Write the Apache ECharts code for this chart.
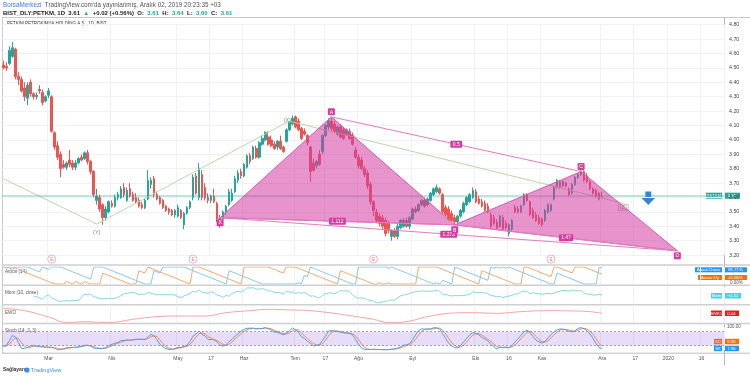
<!DOCTYPE html>
<html>
<head>
<meta charset="utf-8">
<script src="https://cdn.jsdelivr.net/npm/echarts@6.0.0/dist/echarts.min.js"></script>
<style>
html, body { margin: 0; padding: 0; background: #fff; }
#chart { width: 750px; height: 377px; }
</style>
</head>
<body>
<div id="chart"></div>
<script>
// daily slots, the last ~40 are empty future space like on the original
const SLOTS = 240;
const categories = Array.from({ length: SLOTS }, (_, i) => i);
const timeLabelIdx = [15, 36, 58, 69, 80, 97, 107, 118, 136, 157, 168, 179, 199, 210, 221, 232];
const timeLabels = ['Mar', 'Nis', 'May', '17', 'Haz', 'Tem', '17', 'Ağu', 'Eyl', 'Eki', '16', 'Kas', 'Ara', '17', '2020', '16'];

// PETKM daily candles
const opens = [
  4.52, 4.51, 4.53, 4.58, 4.63, 4.44, 4.42, 4.36, 4.29, 4.40,
  4.32, 4.30, 4.35, 4.33, 4.27, 4.31, 4.30, 4.05, 3.96, 3.90,
  3.83, 3.81, 3.86, 3.84, 3.81, 3.84, 3.88, 3.87, 3.91, 3.85,
  3.78, 3.58, 3.60, 3.55, 3.46, 3.50, 3.56, 3.54, 3.60, 3.60,
  3.67, 3.58, 3.66, 3.62, 3.60, 3.58, 3.55, 3.53, 3.59, 3.69,
  3.73, 3.62, 3.60, 3.58, 3.54, 3.52, 3.51, 3.48, 3.47, 3.51,
  3.41, 3.49, 3.53, 3.60, 3.75, 3.60, 3.76, 3.67, 3.60, 3.58,
  3.61, 3.56, 3.46, 3.45, 3.50, 3.55, 3.58, 3.64, 3.72, 3.78,
  3.75, 3.81, 3.89, 3.87, 3.94, 3.88, 3.97, 4.00, 4.02, 4.00,
  3.97, 3.95, 3.99, 3.95, 3.99, 4.07, 4.11, 4.16, 4.13, 4.08,
  4.06, 4.03, 3.95, 3.84, 3.82, 3.90, 3.92, 4.03, 4.09, 4.13,
  4.11, 4.04, 4.09, 4.07, 4.04, 4.06, 4.03, 3.93, 3.88, 3.86,
  3.80, 3.77, 3.69, 3.57, 3.50, 3.47, 3.46, 3.44, 3.42, 3.33,
  3.37, 3.33, 3.39, 3.40, 3.44, 3.40, 3.45, 3.52, 3.51, 3.55,
  3.58, 3.55, 3.58, 3.62, 3.64, 3.66, 3.62, 3.53, 3.52, 3.49,
  3.46, 3.43, 3.47, 3.50, 3.55, 3.57, 3.60, 3.64, 3.59, 3.57,
  3.56, 3.54, 3.48, 3.46, 3.43, 3.40, 3.46, 3.42, 3.35, 3.38,
  3.53, 3.52, 3.50, 3.55, 3.62, 3.57, 3.51, 3.48, 3.46, 3.45,
  3.44, 3.50, 3.51, 3.59, 3.67, 3.71, 3.68, 3.70, 3.66, 3.63,
  3.69, 3.74, 3.76, 3.78, 3.75, 3.71, 3.66, 3.65, 3.63, 3.61
];
const highs = [
  4.55, 4.54, 4.65, 4.68, 4.64, 4.47, 4.44, 4.40, 4.40, 4.42,
  4.33, 4.33, 4.38, 4.35, 4.31, 4.36, 4.31, 4.06, 3.99, 3.92,
  3.86, 3.85, 3.93, 3.86, 3.86, 3.88, 3.90, 3.92, 3.93, 3.86,
  3.79, 3.66, 3.62, 3.56, 3.54, 3.58, 3.58, 3.62, 3.64, 3.68,
  3.70, 3.67, 3.70, 3.64, 3.63, 3.60, 3.57, 3.59, 3.79, 3.74,
  3.75, 3.64, 3.61, 3.59, 3.55, 3.53, 3.52, 3.52, 3.55, 3.52,
  3.50, 3.54, 3.58, 3.76, 3.77, 3.84, 3.79, 3.70, 3.63, 3.62,
  3.66, 3.57, 3.48, 3.51, 3.55, 3.66, 3.66, 3.75, 3.79, 3.80,
  3.84, 3.90, 3.91, 3.96, 3.96, 3.99, 4.03, 4.06, 4.06, 4.03,
  3.99, 4.00, 4.03, 3.96, 4.08, 4.13, 4.17, 4.17, 4.15, 4.09,
  4.08, 4.04, 3.96, 3.87, 3.86, 3.93, 4.04, 4.11, 4.15, 4.15,
  4.13, 4.10, 4.11, 4.09, 4.08, 4.08, 4.05, 3.95, 3.90, 3.88,
  3.82, 3.79, 3.71, 3.58, 3.52, 3.49, 3.48, 3.46, 3.44, 3.38,
  3.39, 3.42, 3.45, 3.46, 3.46, 3.47, 3.53, 3.54, 3.56, 3.59,
  3.60, 3.60, 3.64, 3.67, 3.69, 3.67, 3.63, 3.55, 3.54, 3.51,
  3.48, 3.48, 3.52, 3.57, 3.61, 3.63, 3.67, 3.66, 3.61, 3.59,
  3.58, 3.56, 3.50, 3.48, 3.45, 3.48, 3.48, 3.44, 3.42, 3.45,
  3.55, 3.54, 3.55, 3.63, 3.63, 3.58, 3.53, 3.50, 3.48, 3.46,
  3.52, 3.56, 3.56, 3.68, 3.73, 3.72, 3.72, 3.71, 3.67, 3.70,
  3.75, 3.77, 3.79, 3.79, 3.77, 3.72, 3.67, 3.66, 3.64, 3.64
];
const lows = [
  4.49, 4.48, 4.52, 4.57, 4.42, 4.38, 4.33, 4.27, 4.24, 4.30,
  4.28, 4.28, 4.32, 4.24, 4.26, 4.29, 4.05, 3.93, 3.86, 3.74,
  3.80, 3.79, 3.81, 3.79, 3.79, 3.83, 3.85, 3.86, 3.83, 3.76,
  3.60, 3.55, 3.50, 3.41, 3.44, 3.49, 3.53, 3.53, 3.58, 3.59,
  3.60, 3.57, 3.60, 3.57, 3.56, 3.53, 3.52, 3.52, 3.58, 3.66,
  3.60, 3.58, 3.55, 3.52, 3.50, 3.48, 3.47, 3.46, 3.46, 3.45,
  3.38, 3.48, 3.52, 3.58, 3.62, 3.58, 3.58, 3.58, 3.56, 3.56,
  3.56, 3.43, 3.39, 3.44, 3.48, 3.54, 3.57, 3.63, 3.70, 3.73,
  3.74, 3.80, 3.83, 3.86, 3.87, 3.87, 3.96, 3.99, 3.96, 3.95,
  3.93, 3.93, 3.93, 3.91, 3.98, 4.06, 4.10, 4.08, 4.06, 4.00,
  4.03, 3.96, 3.71, 3.78, 3.80, 3.82, 3.90, 4.02, 4.07, 4.06,
  4.05, 4.03, 4.01, 4.00, 4.03, 4.00, 3.96, 3.87, 3.80, 3.79,
  3.74, 3.66, 3.55, 3.47, 3.42, 3.40, 3.38, 3.33, 3.35, 3.30,
  3.32, 3.31, 3.38, 3.39, 3.39, 3.38, 3.44, 3.49, 3.50, 3.54,
  3.53, 3.54, 3.57, 3.61, 3.63, 3.62, 3.48, 3.47, 3.44, 3.43,
  3.41, 3.42, 3.46, 3.49, 3.54, 3.56, 3.59, 3.56, 3.55, 3.53,
  3.50, 3.49, 3.39, 3.41, 3.38, 3.39, 3.37, 3.38, 3.33, 3.37,
  3.49, 3.49, 3.49, 3.54, 3.57, 3.47, 3.45, 3.43, 3.41, 3.40,
  3.43, 3.49, 3.50, 3.58, 3.66, 3.66, 3.67, 3.67, 3.61, 3.62,
  3.68, 3.73, 3.75, 3.71, 3.70, 3.65, 3.62, 3.60, 3.58, 3.60
];
const closes = [
  4.50, 4.50, 4.62, 4.64, 4.44, 4.42, 4.34, 4.30, 4.38, 4.32,
  4.30, 4.31, 4.34, 4.26, 4.30, 4.34, 4.06, 3.95, 3.88, 3.80,
  3.81, 3.84, 3.83, 3.81, 3.84, 3.87, 3.86, 3.91, 3.85, 3.78,
  3.62, 3.61, 3.52, 3.46, 3.52, 3.57, 3.54, 3.60, 3.62, 3.66,
  3.62, 3.65, 3.61, 3.58, 3.57, 3.54, 3.53, 3.58, 3.72, 3.72,
  3.62, 3.59, 3.56, 3.53, 3.51, 3.50, 3.48, 3.51, 3.53, 3.46,
  3.49, 3.53, 3.57, 3.74, 3.63, 3.80, 3.60, 3.60, 3.58, 3.61,
  3.57, 3.45, 3.44, 3.50, 3.54, 3.64, 3.63, 3.73, 3.77, 3.75,
  3.83, 3.89, 3.85, 3.95, 3.88, 3.98, 4.01, 4.05, 3.97, 3.96,
  3.94, 3.99, 3.94, 3.92, 4.07, 4.12, 4.15, 4.09, 4.07, 4.01,
  4.04, 3.98, 3.78, 3.79, 3.85, 3.83, 4.03, 4.10, 4.13, 4.08,
  4.06, 4.09, 4.02, 4.01, 4.07, 4.01, 3.97, 3.88, 3.82, 3.80,
  3.76, 3.68, 3.57, 3.51, 3.44, 3.42, 3.40, 3.35, 3.37, 3.37,
  3.33, 3.40, 3.44, 3.44, 3.40, 3.46, 3.52, 3.50, 3.55, 3.58,
  3.54, 3.59, 3.63, 3.66, 3.67, 3.63, 3.50, 3.48, 3.45, 3.44,
  3.43, 3.47, 3.51, 3.56, 3.60, 3.62, 3.65, 3.57, 3.56, 3.54,
  3.51, 3.50, 3.40, 3.42, 3.39, 3.47, 3.38, 3.39, 3.41, 3.44,
  3.50, 3.50, 3.54, 3.62, 3.58, 3.48, 3.46, 3.44, 3.42, 3.41,
  3.51, 3.55, 3.55, 3.67, 3.72, 3.67, 3.71, 3.68, 3.62, 3.69,
  3.74, 3.76, 3.78, 3.72, 3.71, 3.66, 3.63, 3.61, 3.59, 3.61
];

// XABCD harmonic pattern
const patternLetters = ['X', 'A', 'B', 'C', 'D'];
const patternIdx = [72, 109, 150, 192, 224];
const patternPrice = [3.46, 4.16, 3.41, 3.78, 3.23];
const ratioLegs = [[0, 2], [1, 3], [2, 4], [0, 4]];
const ratioLabels = ['1.112', '0.5', '1.47', '1.272'];

// green (Y)(X)(Z) line
const waveIdx = [0, 31, 95, 206];
const wavePrice = [3.73, 3.415, 4.13, 3.56];
const waveLabels = ['', '(Y)', '(X)', '(Z)'];

// EWO
const ewoIdx = [0, 7, 15, 21, 27, 35, 43, 51, 59, 67, 74, 82, 88, 96, 102, 110, 116, 123, 128, 134, 140, 148, 156, 164, 172, 180, 190, 195, 199];
const ewoVal = [0.116, 0.08, -0.015, -0.10, -0.086, -0.10, -0.05, -0.01, 0, 0, 0.05, 0.08, 0.10, 0.09, 0.08, 0.04, 0, -0.05, -0.10, -0.085, -0.02, 0.04, 0.05, 0.04, 0.065, 0.08, 0.075, 0.065, 0.04];

// earnings markers
const earningsIdx = [16, 63, 123, 182];

const labelMap = {};
timeLabelIdx.forEach((v, k) => { labelMap[v] = timeLabels[k]; });

// indicators named on the panes
function aroon(len) {
    const up = [], down = [];
    for (let i = 0; i < closes.length; i++) {
        const s = Math.max(0, i - len);
        let hi = s, lo = s;
        for (let j = s; j <= i; j++) {
            if (highs[j] >= highs[hi]) hi = j;
            if (lows[j] <= lows[lo]) lo = j;
        }
        up.push(100 * (len - (i - hi)) / len);
        down.push(100 * (len - (i - lo)) / len);
    }
    return { up, down };
}
function sma(arr, n) {
    return arr.map((_, i) => {
        const s = arr.slice(Math.max(0, i - n + 1), i + 1);
        return s.reduce((a, b) => a + b, 0) / s.length;
    });
}
function stoch(len, sk, sd) {
    const raw = closes.map((c, i) => {
        const s = Math.max(0, i - len + 1);
        const hh = Math.max(...highs.slice(s, i + 1));
        const ll = Math.min(...lows.slice(s, i + 1));
        return hh === ll ? 50 : 100 * (c - ll) / (hh - ll);
    });
    const k = sma(raw, sk);
    return { k, d: sma(k, sd) };
}
const ar = aroon(14);
const mom = closes.map((c, i) => i >= 10 ? +(c - closes[i - 10]).toFixed(3) : null);
const st = stoch(14, 3, 3);

const GRID = (top, height) => ({ left: 2, right: 26, top, height });
const FONT = 'Liberation Sans, Arial, sans-serif';
const fill = 'rgba(210, 60, 160, 0.55)';
const pink = '#d63da0';

const chart = echarts.init(document.getElementById('chart'));

function tag(x, y, w, h, color, text, txtColor) {
    return {
        type: 'group', children: [
            { type: 'rect', shape: { x, y, width: w, height: h }, style: { fill: color } },
            { type: 'text', x: x + w / 2, y: y + h / 2 + 0.3, style: { text, fill: txtColor || '#fff', fontSize: 4.3, fontFamily: FONT, align: 'center', verticalAlign: 'middle' } }
        ]
    };
}
function hline(y, x1, x2, color, w) {
    return { type: 'line', shape: { x1, y1: y, x2, y2: y }, style: { stroke: color, lineWidth: w } };
}
function txt(x, y, text, size, color, extra) {
    return { type: 'text', x, y, style: Object.assign({ text, fill: color, fontSize: size, fontFamily: FONT, verticalAlign: 'middle' }, extra || {}) };
}

const option = {
    animation: false,
    backgroundColor: '#fff',
    textStyle: { fontFamily: FONT },
    grid: [GRID(24.7, 230.4), GRID(267, 17), GRID(287, 16.5), GRID(305, 18), GRID(327, 23.4)],
    xAxis: [0, 1, 2, 3, 4].map(g => ({
        type: 'category',
        gridIndex: g,
        data: categories,
        axisLine: { show: false },
        axisTick: { show: false },
        axisLabel: g === 4 ? {
            show: true,
            interval: (i) => labelMap[i] !== undefined,
            formatter: (v, i) => labelMap[i] || '',
            fontSize: 5,
            color: '#555',
            margin: 6
        } : { show: false },
        splitLine: { show: true, interval: (i) => labelMap[i] !== undefined, lineStyle: { color: '#eef1f6', width: 1 } }
    })),
    yAxis: [
        {
            gridIndex: 0, position: 'right', min: 3.2, max: 4.8, interval: 0.1,
            axisLine: { show: false }, axisTick: { show: false },
            axisLabel: { fontSize: 5.3, color: '#444', margin: 5, formatter: v => v.toFixed(2) },
            splitLine: { lineStyle: { color: '#eef1f6' } }
        },
        { gridIndex: 1, min: 0, max: 100, show: false },
        { gridIndex: 2, min: v => v.min - 0.04, max: v => v.max + 0.04, show: false },
        { gridIndex: 3, min: -0.105, max: 0.165, show: false },
        { gridIndex: 4, min: 0, max: 100, show: false }
    ],
    series: [
        {
            type: 'candlestick',
            xAxisIndex: 0, yAxisIndex: 0,
            z: 2,
            barWidth: '70%',
            barMaxWidth: 2,
            data: opens.map((o, i) => [o, closes[i], lows[i], highs[i]]),
            itemStyle: { color: '#26a69a', color0: '#ef5350', borderColor: '#26a69a', borderColor0: '#ef5350', borderWidth: 1 },
            markLine: {
                silent: true, symbol: 'none', label: { show: false },
                lineStyle: { color: 'rgba(38,166,154,0.3)', type: 'solid', width: 2 },
                data: [{ yAxis: closes[closes.length - 1] }]
            }
        },
        {
            // green wave line
            type: 'line',
            xAxisIndex: 0, yAxisIndex: 0,
            z: 3,
            symbol: 'none',
            lineStyle: { color: '#b9d9a3', width: 1 },
            data: waveIdx.map((v, k) => [v, wavePrice[k]])
        },
        {
            type: 'custom',
            xAxisIndex: 0, yAxisIndex: 0,
            z: 4,
            clip: false,
            encode: { x: 0, y: 1 },
            data: waveIdx.map((v, k) => [v, wavePrice[k]]),
            renderItem: (params, api) => {
                const label = waveLabels[params.dataIndex];
                if (!label) return null;
                const p = api.coord([api.value(0), api.value(1)]);
                let x = p[0], y = p[1];
                if (label === '(Y)') y += 8;
                if (label === '(X)') { x -= 2; y -= 1; }
                if (label === '(Z)') y += 4;
                const children = [];
                if (label === '(Z)') {
                    children.push({ type: 'rect', shape: { x: x - 5, y: y - 3, width: 10, height: 6 }, style: { fill: 'rgba(255,255,255,0.6)', stroke: '#9a9a9a', lineWidth: 0.6 } });
                }
                children.push({ type: 'text', x, y, style: { text: label, fill: '#6f9457', fontSize: 5.5, fontFamily: FONT, align: 'center', verticalAlign: 'middle' } });
                return { type: 'group', children };
            }
        },
        {
            // XAB and BCD triangles
            type: 'custom',
            xAxisIndex: 0, yAxisIndex: 0,
            z: 5,
            clip: false,
            encode: { x: 0, y: 1 },
            data: [[0, 1, 2], [2, 3, 4]].map(t => [patternIdx[t[0]], patternPrice[t[0]], patternIdx[t[1]], patternPrice[t[1]], patternIdx[t[2]], patternPrice[t[2]]]),
            renderItem: (params, api) => {
                const pts = [0, 1, 2].map(k => api.coord([api.value(2 * k), api.value(2 * k + 1)]));
                return { type: 'polygon', shape: { points: pts }, style: { fill, stroke: '#d85bb4', lineWidth: 1 } };
            }
        },
        {
            // ratio legs with their labels
            type: 'custom',
            xAxisIndex: 0, yAxisIndex: 0,
            z: 6,
            clip: false,
            encode: { x: 0, y: 1 },
            data: ratioLegs.map(l => [patternIdx[l[0]], patternPrice[l[0]], patternIdx[l[1]], patternPrice[l[1]]]),
            renderItem: (params, api) => {
                const a = api.coord([api.value(0), api.value(1)]);
                const b = api.coord([api.value(2), api.value(3)]);
                const mx = (a[0] + b[0]) / 2, my = (a[1] + b[1]) / 2;
                const t = ratioLabels[params.dataIndex];
                const w = t.length * 2.6 + 4;
                return {
                    type: 'group', children: [
                        { type: 'line', shape: { x1: a[0], y1: a[1], x2: b[0], y2: b[1] }, style: { stroke: '#e27cc2', lineWidth: 1 } },
                        { type: 'rect', shape: { x: mx - w / 2, y: my - 3.5, width: w, height: 7, r: 1 }, style: { fill: pink } },
                        { type: 'text', x: mx, y: my + 0.3, style: { text: t, fill: '#fff', fontSize: 5, fontFamily: FONT, align: 'center', verticalAlign: 'middle' } }
                    ]
                };
            }
        },
        {
            // X A B C D letters
            type: 'custom',
            xAxisIndex: 0, yAxisIndex: 0,
            z: 7,
            clip: false,
            encode: { x: 0, y: 1 },
            data: patternIdx.map((v, k) => [v, patternPrice[k]]),
            renderItem: (params, api) => {
                const p = api.coord([api.value(0), api.value(1)]);
                const cy = p[1] + (params.dataIndex % 2 === 1 ? -5 : 5);
                return {
                    type: 'group', children: [
                        { type: 'rect', shape: { x: p[0] - 3.5, y: cy - 3.5, width: 7, height: 7, r: 1 }, style: { fill: pink } },
                        { type: 'text', x: p[0], y: cy + 0.3, style: { text: patternLetters[params.dataIndex], fill: '#fff', fontSize: 5, fontFamily: FONT, align: 'center', verticalAlign: 'middle' } }
                    ]
                };
            }
        },
        {
            // earnings "E" markers under the price pane
            type: 'custom',
            xAxisIndex: 0, yAxisIndex: 0,
            z: 7,
            clip: false,
            encode: { x: 0, y: 1 },
            data: earningsIdx.map(v => [v, 3.2]),
            renderItem: (params, api) => {
                const p = api.coord([api.value(0), api.value(1)]);
                const y = p[1] + 4;
                return {
                    type: 'group', children: [
                        { type: 'circle', shape: { cx: p[0], cy: y, r: 4 }, style: { fill: '#fff', stroke: '#f29bb0', lineWidth: 0.8 } },
                        { type: 'text', x: p[0], y: y + 0.3, style: { text: 'E', fill: '#e0708f', fontSize: 4.5, fontFamily: FONT, align: 'center', verticalAlign: 'middle' } }
                    ]
                };
            }
        },
        {
            name: 'Aroon Up', type: 'line', xAxisIndex: 1, yAxisIndex: 1,
            symbol: 'none', lineStyle: { color: '#f7a66a', width: 1 }, data: ar.up
        },
        {
            name: 'Aroon Down', type: 'line', xAxisIndex: 1, yAxisIndex: 1,
            symbol: 'none', lineStyle: { color: '#86c5f4', width: 1 }, data: ar.down
        },
        {
            name: 'Mom', type: 'line', xAxisIndex: 2, yAxisIndex: 2,
            symbol: 'none', lineStyle: { color: '#86d7e0', width: 1 }, data: mom
        },
        {
            name: 'EWO', type: 'line', xAxisIndex: 3, yAxisIndex: 3,
            symbol: 'none', smooth: 0.4, lineStyle: { color: '#f5a5a5', width: 1 },
            data: ewoIdx.map((v, k) => [v, ewoVal[k]])
        },
        {
            name: 'SD', type: 'line', xAxisIndex: 4, yAxisIndex: 4,
            symbol: 'none', lineStyle: { color: '#f58a4a', width: 1 }, data: st.d
        },
        {
            name: 'SK', type: 'line', xAxisIndex: 4, yAxisIndex: 4,
            symbol: 'none', lineStyle: { color: '#4f9ff0', width: 1 }, data: st.k,
            markArea: { silent: true, itemStyle: { color: 'rgba(150, 100, 225, 0.22)' }, data: [[{ yAxis: 20 }, { yAxis: 80 }]] },
            markLine: {
                silent: true, symbol: 'none', label: { show: false },
                lineStyle: { color: '#8c8ca0', type: [2, 2], width: 0.8 },
                data: [{ yAxis: 20 }, { yAxis: 80 }]
            }
        }
    ],
    graphic: [
        // header
        {
            type: 'text', x: 3, y: 5,
            style: {
                text: "{b|BorsaMerkezi} {g|TradingView.com'da yayınlanmış, Aralık 02, 2019 20:23:35 +03}",
                verticalAlign: 'middle', fontFamily: FONT,
                rich: { b: { fill: '#3d7de0', fontSize: 6.3, fontFamily: FONT }, g: { fill: '#555', fontSize: 6.3, fontFamily: FONT } }
            }
        },
        {
            type: 'text', x: 3, y: 13.5,
            style: {
                text: '{k|BIST_DLY:PETKM, 1D} {k|3.61} {t|▲} {k|+0.02 (+0.56%)} {k|O:} {t|3.61} {k|H:} {t|3.64} {k|L:} {t|3.60} {k|C:} {t|3.61}',
                verticalAlign: 'middle', fontFamily: FONT,
                rich: {
                    k: { fill: '#222', fontSize: 6, fontWeight: 'bold', fontFamily: FONT },
                    t: { fill: '#26a69a', fontSize: 6, fontWeight: 'bold', fontFamily: FONT }
                }
            }
        },
        txt(7, 23.5, 'PETKİM PETROKİMYA HOLDİNG A.Ş., 1D, BIST', 4.5, '#333'),
        // frame and pane separators
        hline(17.5, 2, 750, '#c9c9c9', 1),
        { type: 'line', shape: { x1: 2.5, y1: 17, x2: 2.5, y2: 353 }, style: { stroke: '#c9c9c9', lineWidth: 1 } },
        { type: 'line', shape: { x1: 724.5, y1: 17, x2: 724.5, y2: 365 }, style: { stroke: '#b5b5b5', lineWidth: 1 } },
        hline(265, 2, 750, '#cfcfcf', 1.5),
        hline(285.2, 2, 750, '#cfcfcf', 1.5),
        hline(304.8, 2, 750, '#cfcfcf', 1.5),
        hline(323.5, 2, 750, '#cfcfcf', 1.5),
        hline(353.2, 2, 750, '#bdbdbd', 1),
        // pane titles
        txt(5, 271.5, 'Aroon (14)', 4.6, '#555'),
        txt(5, 292.5, 'Mom (10, close)', 4.6, '#555'),
        txt(5, 312.7, 'EWO', 4.6, '#555'),
        txt(5, 330.7, 'Stoch (14, 3, 3)', 4.6, '#555'),
        // last value tags
        tag(706, 192.7, 16, 6, '#26a69a', 'PETKM'),
        tag(724, 192.7, 16, 6, '#26a69a', '3.61'),
        tag(695, 267.3, 27, 5, '#2196f3', 'Aroon Down'),
        tag(724, 267.3, 23, 5, '#2196f3', '85.71%'),
        tag(698, 275, 24, 5, '#ff6d00', 'Aroon Up'),
        tag(724, 275, 23, 5, '#ff6d00', '42.86%'),
        txt(730, 283, '0.00%', 4.5, '#555'),
        tag(711, 293, 11, 5.5, '#4dd0e1', 'Mom'),
        tag(724, 293, 17, 5.5, '#4dd0e1', '−0.10'),
        tag(711, 310.5, 11, 5.5, '#f01818', 'EWO'),
        tag(724, 310.5, 15, 5.5, '#f01818', '0.04'),
        txt(727, 327, '100.00', 4.5, '#555'),
        tag(714, 338.8, 8, 5.5, '#ff6d00', 'SD'),
        tag(724, 338.8, 15, 5.5, '#ff6d00', '9.95'),
        tag(714, 345.7, 8, 5.5, '#2196f3', 'SK'),
        tag(724, 345.7, 15, 5.5, '#2196f3', '7.96'),
        // blue down arrow
        {
            type: 'polygon',
            shape: { points: [[645.3, 191.5], [651.3, 191.5], [651.3, 197.3], [655.8, 197.3], [648.3, 205], [640.8, 197.3], [645.3, 197.3]] },
            style: { fill: '#3a84d6' }
        },
        // footer
        txt(3, 370, 'Sağlayan:', 5, '#333', { fontWeight: 'bold' }),
        { type: 'circle', shape: { cx: 27, cy: 370, r: 2.6 }, style: { fill: '#3d8ee8' } },
        txt(31, 370, 'TradingView', 5.5, '#3d8ee8')
    ]
};

chart.setOption(option);
</script>
</body>
</html>
